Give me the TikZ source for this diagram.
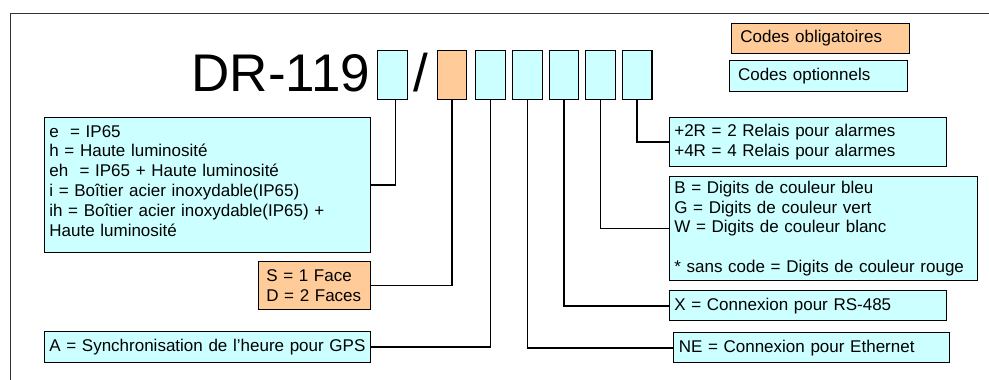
\documentclass[tikz,border=0pt]{standalone}
\usepackage{fontspec}
\setmainfont{Liberation Sans}
\definecolor{optcyan}{HTML}{CCFFFF}
\definecolor{reqorange}{HTML}{FFCC99}
\tikzset{
  codebox/.style={draw=black, line width=1.1pt, align=left, anchor=north west, inner xsep=4.5pt, inner ysep=0pt, font={\fontsize{17}{19.9}\selectfont}},
  optbox/.style={codebox, fill=optcyan},
  reqbox/.style={codebox, fill=reqorange},
  digit/.style={draw=black, line width=1.1pt, anchor=north west, inner sep=0pt, minimum width=29.4pt, minimum height=49.3pt},
  link/.style={line width=1.6pt}
}
\begin{document}
\begin{tikzpicture}[x=1pt,y=-1pt]
    \useasboundingbox (0,0) rectangle (989,380);
    \draw[black!80, line width=0.9pt] (10,380) -- (10,13) -- (989,13);
    \node[font={\fontsize{53}{60}\selectfont}, anchor=base east, inner sep=0pt] (model) at (370.5,91) {DR-119};
    \node[font={\fontsize{53}{60}\selectfont}, anchor=base, inner sep=0pt] (slash) at (421,91) {/};
    \node[digit, fill=optcyan]   (d1) at (377.3,50) {};
    \node[digit, fill=reqorange] (d2) at (436.9,50) {};
    \node[digit, fill=optcyan]   (d3) at (475.3,50) {};
    \node[digit, fill=optcyan]   (d4) at (512.3,50) {};
    \node[digit, fill=optcyan]   (d5) at (548.7,50) {};
    \node[digit, fill=optcyan]   (d6) at (585.3,50) {};
    \node[digit, fill=optcyan]   (d7) at (622,50) {};
    \node[reqbox, inner xsep=8.5pt, text width=160.4pt, minimum height=30.6pt] (legreq) at (731.3,22.7) {Codes obligatoires};
    \node[optbox, inner xsep=8.5pt, text width=160.7pt, minimum height=30.7pt] (legopt) at (729,60) {Codes optionnels};
    \node[optbox, text width=316.7pt, minimum height=134.7pt] (finish) at (44.3,117) {e~ = IP65\\ h = Haute luminosité\\ eh~ = IP65 + Haute luminosité\\ i = Boîtier acier inoxydable(IP65)\\ ih = Boîtier acier inoxydable(IP65) +\\ Haute luminosité\rule[-8pt]{0pt}{8pt}};
    \node[reqbox, inner xsep=8pt, text width=96.3pt, minimum height=48.6pt] (faces) at (257.7,260.7) {S = 1 Face\\ D = 2 Faces};
    \node[optbox, text width=316.7pt, minimum height=30.7pt] (gps) at (44.3,331.3) {A = Synchronisation de l’heure pour GPS};
    \node[optbox, text width=267.4pt, minimum height=49pt] (relay) at (669.3,117) {+2R = 2 Relais pour alarmes\\ +4R = 4 Relais pour alarmes};
    \node[optbox, text width=299pt, minimum height=104pt] (colour) at (669.3,176) {B = Digits de couleur bleu\\ G = Digits de couleur vert\\ W = Digits de couleur blanc\\[19.9pt] * sans code = Digits de couleur rouge};
    \node[optbox, text width=267.4pt, minimum height=30.3pt] (rs) at (669.3,290) {X = Connexion pour RS-485};
    \node[optbox, inner xsep=5.5pt, text width=265.6pt, minimum height=30.3pt] (eth) at (672.7,332) {NE = Connexion pour Ethernet};
    \draw[link] ([xshift=3pt]d1.south) |- (finish.east);
    \draw[link] (d2.south) |- (faces.east);
    \draw[link] (d3.south) |- (gps.east);
    \draw[link] (d4.south) |- (eth.west);
    \draw[link] (d5.south) |- (rs.west);
    \draw[link] (d6.south) |- (colour.west);
    \draw[link] (d7.south) |- (relay.west);
\end{tikzpicture}
\end{document}
